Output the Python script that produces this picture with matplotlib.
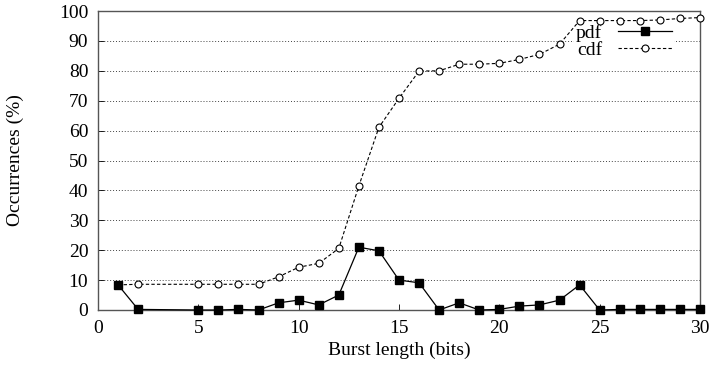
import matplotlib.pyplot as plt

# burst length (bits) -- no samples at 3 and 4
burst_len = [1, 2, 5, 6, 7, 8, 9, 10, 11, 12, 13, 14, 15, 16, 17, 18, 19,
             20, 21, 22, 23, 24, 25, 26, 27, 28, 29, 30]
pdf_vals = [8.4, 0.2, 0.0, 0.0, 0.2, 0.0, 2.4, 3.3, 1.7, 5.0, 21.0, 19.8,
            10.0, 9.1, 0.0, 2.4, 0.0, 0.2, 1.3, 1.7, 3.3, 8.4, 0.0, 0.2,
            0.2, 0.2, 0.2, 0.2]
cdf_vals = [8.4, 8.6, 8.6, 8.6, 8.6, 8.6, 11.1, 14.3, 15.6, 20.6, 41.5,
            61.1, 70.8, 79.9, 80.0, 82.2, 82.2, 82.5, 83.8, 85.5, 88.9,
            96.8, 96.8, 96.8, 96.8, 97.0, 97.5, 97.8]
x_ticks = [0, 5, 10, 15, 20, 25, 30]
y_ticks = list(range(0, 101, 10))

plt.rcParams['font.family'] = ['Liberation Serif', 'DejaVu Serif']
plt.rcParams['font.size'] = 14

fig = plt.figure(figsize=(7.1, 3.73), dpi=100)
ax = fig.add_axes([98 / 710, 1 - 310 / 373, 602 / 710, 299 / 373])

ax.plot(burst_len, cdf_vals, '--', color='black', lw=0.8, marker='o',
        ms=5, mfc='white', mec='black', mew=0.8, label='cdf', zorder=3,
        dashes=(3, 2), clip_on=False)
ax.plot(burst_len, pdf_vals, '-', color='black', lw=0.9, marker='s',
        ms=5.5, mfc='black', mec='black', label='pdf', zorder=4,
        clip_on=False)

ax.set_xlim(0, 30)
ax.set_ylim(0, 100)
ax.set_xticks(x_ticks)
ax.set_yticks(y_ticks)
ax.tick_params(direction='in', length=4, width=0.6, pad=7)
ax.yaxis.grid(True, linestyle=(0, (1, 2)), color='#444444', lw=0.7)
ax.set_axisbelow(True)
for sp in ax.spines.values():
    sp.set_color('#555555')
    sp.set_linewidth(1.0)

ax.set_xlabel('Burst length (bits)', va='center')
ax.set_ylabel('Occurrences (%)', va='center')
ax.xaxis.set_label_coords(0.5, -40 / 299)
ax.yaxis.set_label_coords(-83 / 602, 0.5)

handles, labels = ax.get_legend_handles_labels()
leg = ax.legend(handles[::-1], labels[::-1], loc='upper right',
                bbox_to_anchor=(576 / 602, 0.962),
                markerfirst=False, frameon=True, fancybox=False,
                edgecolor='none', facecolor='white', framealpha=1,
                handlelength=2.8, handletextpad=0.8, borderpad=0.1,
                borderaxespad=0, labelspacing=-0.05, fontsize=14)
leg.set_zorder(2)

fig.savefig('out.png', dpi=100)
